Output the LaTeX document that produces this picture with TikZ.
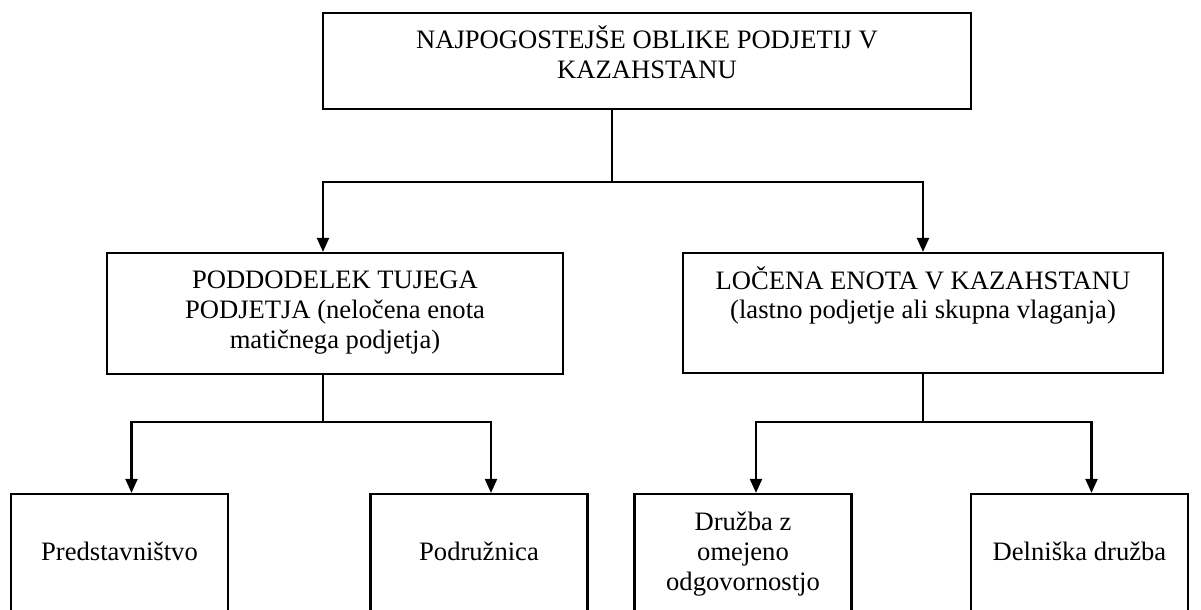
\documentclass[tikz,border=0pt]{standalone}
\usepackage{fontspec}
\setmainfont{Liberation Serif}
\usetikzlibrary{arrows.meta}
\begin{document}
\begin{tikzpicture}[x=0.5pt, y=-0.5pt, line width=1.1pt, >={Triangle[length=7pt,width=6pt]},
  every node/.style={draw, align=center, inner sep=0pt, text height=9pt, font=\fontsize{13.3}{15}\selectfont},
  leaf/.style={minimum width=108.5pt, minimum height=59pt, text depth=2pt}]
\useasboundingbox (0,0) rectangle (1201,610);
\clip (0,0) rectangle (1201,610);
\node (forms) at (647,61) [minimum width=324pt, minimum height=48pt, text height=24pt, text depth=6pt] {NAJPOGOSTEJŠE OBLIKE PODJETIJ V\\KAZAHSTANU};
\node (subdiv) at (335,313.5) [minimum width=228pt, minimum height=60.5pt, text height=38pt, text depth=3pt] {PODDODELEK TUJEGA\\PODJETJA (neločena enota\\matičnega podjetja)};
\node (separate) at (923,313) [minimum width=240pt, minimum height=60pt, text height=24pt, text depth=18pt] {LOČENA ENOTA V KAZAHSTANU\\(lastno podjetje ali skupna vlaganja)};
\node (repr) at (119.5,553) [leaf] {Predstavništvo};
\node (branch) at (479,553) [leaf] {Podružnica};
\node (llc) at (743,553) [leaf, text height=39pt] {Družba z\\omejeno\\odgovornostjo};
\node (jsc) at (1079.5,553) [leaf] {Delniška družba};
\coordinate (fork) at (612,182);
\coordinate (forkL) at (323,422);
\coordinate (forkR) at (923,422);
\draw ([xshift=-17.5pt]forms.south) -- (fork);
\draw[->] (fork) -| ([xshift=-6pt]subdiv.north);
\draw[->] (fork) -| (separate.north);
\draw ([xshift=-6pt]subdiv.south) -- (forkL);
\draw[->] (forkL) -| ([xshift=6pt]repr.north);
\draw[->] (forkL) -| ([xshift=6pt]branch.north);
\draw (separate.south) -- (forkR);
\draw[->] (forkR) -| ([xshift=6.5pt]llc.north);
\draw[->] (forkR) -| ([xshift=6pt]jsc.north);
\end{tikzpicture}
\end{document}
